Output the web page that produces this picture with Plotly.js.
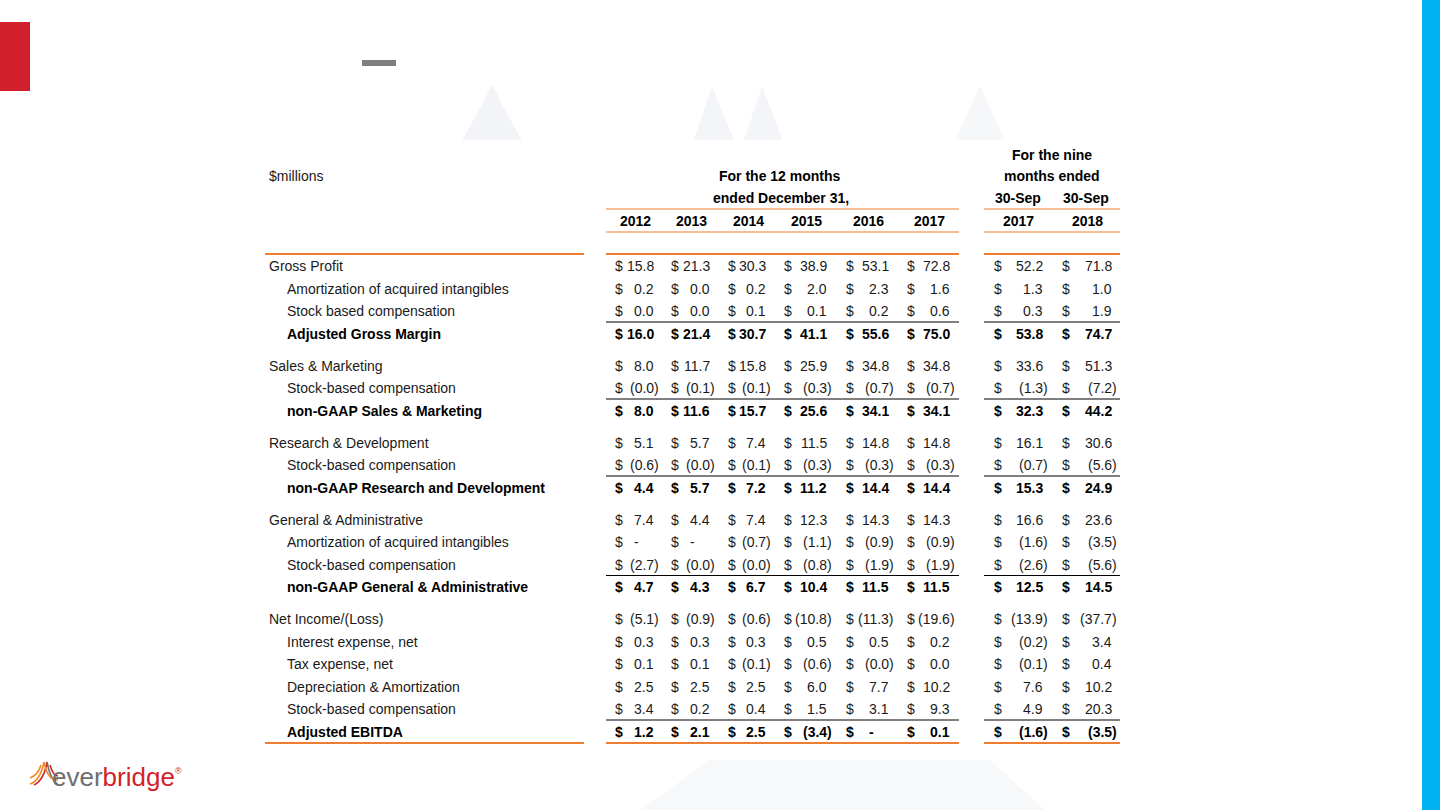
<!DOCTYPE html>
<html>
<head>
<meta charset="utf-8">
<script src="https://cdn.plot.ly/plotly-3.0.1.min.js"></script>
<style>
  html, body { margin: 0; padding: 0; background: #fff; }
  #table_chart { width: 1440px; height: 810px; }
</style>
</head>
<body>
<div id="table_chart"></div>
<script>
// row labels, grouped; the last row of each group is its total
const rowLabels = [
  'Gross Profit', 'Amortization of acquired intangibles', 'Stock based compensation', 'Adjusted Gross Margin',
  'Sales & Marketing', 'Stock-based compensation', 'non-GAAP Sales & Marketing',
  'Research & Development', 'Stock-based compensation', 'non-GAAP Research and Development',
  'General & Administrative', 'Amortization of acquired intangibles', 'Stock-based compensation', 'non-GAAP General & Administrative',
  'Net Income/(Loss)', 'Interest expense, net', 'Tax expense, net', 'Depreciation & Amortization', 'Stock-based compensation', 'Adjusted EBITDA'
];
const rowGroup = [0, 0, 0, 0, 1, 1, 1, 2, 2, 2, 3, 3, 3, 3, 4, 4, 4, 4, 4, 4];

const periods = ['2012', '2013', '2014', '2015', '2016', '2017', '2017', '2018'];

// -0 is shown as (0.0), null as "-"
const fy2012 = [15.8, 0.2, 0.0, 16.0, 8.0, -0, 8.0, 5.1, -0.6, 4.4, 7.4, null, -2.7, 4.7, -5.1, 0.3, 0.1, 2.5, 3.4, 1.2];
const fy2013 = [21.3, 0.0, 0.0, 21.4, 11.7, -0.1, 11.6, 5.7, -0, 5.7, 4.4, null, -0, 4.3, -0.9, 0.3, 0.1, 2.5, 0.2, 2.1];
const fy2014 = [30.3, 0.2, 0.1, 30.7, 15.8, -0.1, 15.7, 7.4, -0.1, 7.2, 7.4, -0.7, -0, 6.7, -0.6, 0.3, -0.1, 2.5, 0.4, 2.5];
const fy2015 = [38.9, 2.0, 0.1, 41.1, 25.9, -0.3, 25.6, 11.5, -0.3, 11.2, 12.3, -1.1, -0.8, 10.4, -10.8, 0.5, -0.6, 6.0, 1.5, -3.4];
const fy2016 = [53.1, 2.3, 0.2, 55.6, 34.8, -0.7, 34.1, 14.8, -0.3, 14.4, 14.3, -0.9, -1.9, 11.5, -11.3, 0.5, -0, 7.7, 3.1, null];
const fy2017 = [72.8, 1.6, 0.6, 75.0, 34.8, -0.7, 34.1, 14.8, -0.3, 14.4, 14.3, -0.9, -1.9, 11.5, -19.6, 0.2, 0.0, 10.2, 9.3, 0.1];
const nm2017 = [52.2, 1.3, 0.3, 53.8, 33.6, -1.3, 32.3, 16.1, -0.7, 15.3, 16.6, -1.6, -2.6, 12.5, -13.9, -0.2, -0.1, 7.6, 4.9, -1.6];
const nm2018 = [71.8, 1.0, 1.9, 74.7, 51.3, -7.2, 44.2, 30.6, -5.6, 24.9, 23.6, -3.5, -5.6, 14.5, -37.7, 3.4, 0.4, 10.2, 20.3, -3.5];
const columns = [fy2012, fy2013, fy2014, fy2015, fy2016, fy2017, nm2017, nm2018];

// table geometry (pixels on a 1440x810 axis)
const colDollar = [615, 671, 728, 784, 846, 907, 994, 1062];
const colRight = [654, 710, 766, 827, 889, 950, 1043, 1112];
const rowTop = 266, rowStep = 22.5, groupGap = 9.5;
const ORANGE = '#ED7D31';
const FONT = 'Liberation Sans, Arial, sans-serif';

function rowY(i) {
  return rowTop + i * rowStep + rowGroup[i] * groupGap;
}
function isTotal(i) {
  return i === rowGroup.length - 1 || rowGroup[i + 1] !== rowGroup[i];
}
function isFirst(i) {
  return i === 0 || rowGroup[i - 1] !== rowGroup[i];
}
function fmt(v) {
  if (v === null) return '-';
  if (v < 0 || Object.is(v, -0)) return '(' + Math.abs(v).toFixed(1) + ')';
  return v.toFixed(1);
}

function txt(x, y, text, anchor, bold, size, color) {
  return {
    x: x, y: y, xref: 'x', yref: 'y', text: bold ? '<b>' + text + '</b>' : text,
    showarrow: false, xanchor: anchor, yanchor: 'middle', borderpad: 0, borderwidth: 0,
    font: {family: FONT, size: size || 14, color: color || (bold ? '#000' : '#1a1a1a')}
  };
}
function hline(x0, x1, y, color, width) {
  return {type: 'line', xref: 'x', yref: 'y', x0: x0, x1: x1, y0: y, y1: y, line: {color: color, width: width}, layer: 'above'};
}
function poly(path, color) {
  return {type: 'path', xref: 'x', yref: 'y', path: path, fillcolor: color, line: {width: 0}, layer: 'below'};
}

let annotations = [];
let shapes = [];

// faint background watermark and panels
shapes.push(poly('M 462 140 Q 480 110 492 84 Q 504 110 522 140 Z', '#f3f4f7'));
shapes.push(poly('M 694 140 Q 704 110 712 86 Q 722 110 734 140 Z', '#f4f5f8'));
shapes.push(poly('M 744 140 Q 754 110 762 86 Q 772 110 782 140 Z', '#f4f5f8'));
shapes.push(poly('M 956 140 Q 968 110 980 86 Q 992 110 1004 140 Z', '#f6f7f9'));
shapes.push(poly('M 640 810 L 710 760 L 990 760 L 1045 810 Z', '#f7f8fa'));
shapes.push({type: 'rect', xref: 'x', yref: 'y', x0: 258, x1: 1131, y0: 141, y1: 756, fillcolor: '#ffffff', line: {width: 0}, layer: 'below'});
shapes.push({type: 'rect', xref: 'x', yref: 'y', x0: 0, x1: 30, y0: 22, y1: 91, fillcolor: '#D21F2C', line: {width: 0}, layer: 'below'});
shapes.push({type: 'rect', xref: 'x', yref: 'y', x0: 362, x1: 396, y0: 60, y1: 66, fillcolor: '#7f7f7f', line: {width: 0}, layer: 'below'});
shapes.push({type: 'rect', xref: 'x', yref: 'y', x0: 1422, x1: 1440, y0: 0, y1: 810, fillcolor: '#00B0F0', line: {width: 0}, layer: 'below'});

// header
annotations.push(txt(269, 176, '$millions', 'left', false));
annotations.push(txt(780, 176, 'For the 12 months', 'center', true));
annotations.push(txt(781, 198, 'ended December 31,', 'center', true));
annotations.push(txt(1052, 155, 'For the nine', 'center', true));
annotations.push(txt(1052, 176, 'months ended', 'center', true));
annotations.push(txt(1018, 198, '30-Sep', 'center', true));
annotations.push(txt(1086, 198, '30-Sep', 'center', true));
periods.forEach((p, c) => {
  const cx = c < 6 ? (colDollar[c] + colRight[c]) / 2 + 1 : (colDollar[c] + colRight[c]) / 2;
  annotations.push(txt(cx, 221, p, 'center', true));
});

const blocks = [[606, 959], [984, 1120]];
blocks.forEach(b => {
  shapes.push(hline(b[0], b[1], 209, ORANGE, 1));
  shapes.push(hline(b[0], b[1], 232, ORANGE, 1));
});

// body rows
rowLabels.forEach((label, i) => {
  const y = rowY(i);
  const bold = isTotal(i);
  annotations.push(txt(isFirst(i) ? 269 : 287, y, label, 'left', bold));
  columns.forEach((col, c) => {
    const v = col[i];
    annotations.push(txt(colDollar[c], y, '$', 'left', bold));
    let x = colRight[c];
    if (v === null) x = colRight[c] - 15;
    else if (v < 0 || Object.is(v, -0)) x = colRight[c] + 5;
    annotations.push(txt(x, y, fmt(v), 'right', bold));
  });
  if (bold && i > 0) {
    blocks.forEach(b => shapes.push(hline(b[0], b[1], y - 11.5, '#000', 1)));
  }
});

const topRule = rowTop - 12;
const bottomRule = rowY(rowLabels.length - 1) + 11.5;
[[265, 584]].concat(blocks).forEach(b => {
  shapes.push(hline(b[0], b[1], topRule, ORANGE, 2));
  shapes.push(hline(b[0], b[1], bottomRule, ORANGE, 2));
});

// logo
const arc = (path, color) => ({type: 'path', xref: 'x', yref: 'y', path: path, line: {color: color, width: 1.6}, layer: 'above'});
shapes.push(arc('M 30 784 Q 40 781 44 762', '#F08A24'));
shapes.push(arc('M 30 778 Q 38 775 41 765', '#F08A24'));
shapes.push(arc('M 34 785 Q 44 780 47 762', '#D2232A'));
shapes.push(arc('M 47 762 Q 50 779 58 785', '#6d6e71'));
shapes.push(arc('M 44 762 Q 48 781 58 780', '#F08A24'));
shapes.push(arc('M 50 765 Q 53 776 58 776', '#D2232A'));
annotations.push({
  x: 52, y: 777, xref: 'x', yref: 'y', showarrow: false, xanchor: 'left', yanchor: 'middle',
  borderpad: 0, borderwidth: 0,
  text: 'ever<span style="color:#D2232A">bridge</span>',
  font: {family: FONT, size: 26, color: '#6d6e71'}
});
annotations.push(txt(175, 771, '®', 'left', false, 9, '#D2232A'));

const layout = {
  width: 1440,
  height: 810,
  margin: {l: 0, r: 0, t: 0, b: 0},
  paper_bgcolor: '#ffffff',
  plot_bgcolor: 'rgba(0,0,0,0)',
  showlegend: false,
  xaxis: {range: [0, 1440], visible: false, fixedrange: true},
  yaxis: {range: [810, 0], visible: false, fixedrange: true},
  annotations: annotations,
  shapes: shapes
};

Plotly.newPlot('table_chart', [{type: 'scatter', x: [], y: [], hoverinfo: 'skip'}], layout, {staticPlot: true, displayModeBar: false});
</script>
</body>
</html>
